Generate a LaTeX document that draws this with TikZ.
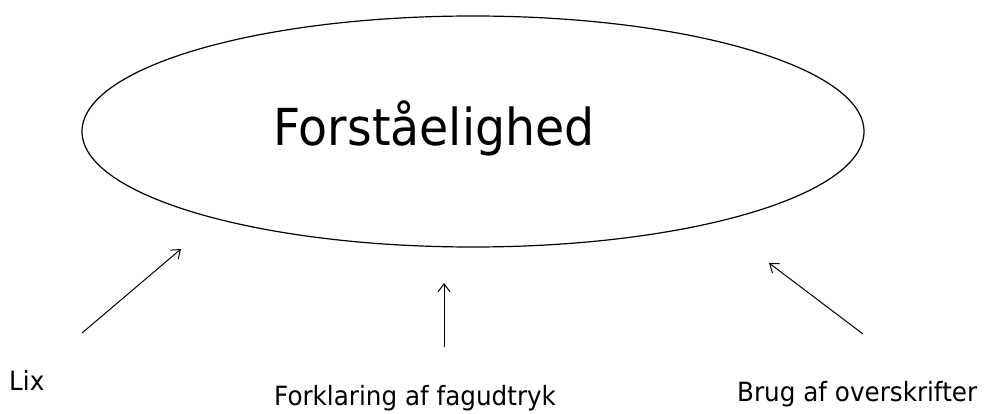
\documentclass[tikz,border=0pt]{standalone}
\usepackage{fontspec}
\setmainfont{DejaVu Sans}[FakeStretch=0.93]
\usetikzlibrary{shapes.geometric,arrows.meta}
\begin{document}
\begin{tikzpicture}[x=1pt,y=-1pt,
  oval/.style={draw,ellipse,line width=1.2pt,inner sep=0pt,minimum width=782pt,minimum height=231pt},
  label/.style={inner sep=0pt,anchor=base west,font=\fontsize{26.5}{30}\selectfont},
  title/.style={inner sep=0pt,anchor=base west,font=\fontsize{51}{56}\selectfont},
  arr/.style={line width=1pt,-{Straight Barb[length=8pt,width=12pt]}}]
\useasboundingbox (0,0) rectangle (995,414);
\node[oval] (ell) at (473,131.5) {};
\node[title] (t) at (273,146) {Forståelighed};
\node[label] (lix) at (9,390) {Lix};
\node[label] (fork) at (274,405) {Forklaring af fagudtryk};
\node[label] (brug) at (737,401) {Brug af overskrifter};
\coordinate (a1s) at (82,333);
\coordinate (a1e) at (181,249);
\coordinate (a2s) at (444,347);
\coordinate (a2e) at (444,283);
\coordinate (a3s) at (863,334);
\coordinate (a3e) at (769,263);
\draw[arr] (a1s) -- (a1e);
\draw[arr] (a2s) -- (a2e);
\draw[arr] (a3s) -- (a3e);
\end{tikzpicture}
\end{document}
